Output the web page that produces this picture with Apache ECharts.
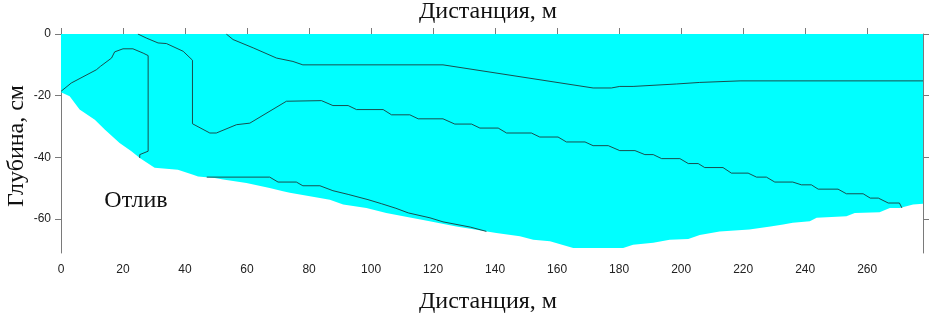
<!DOCTYPE html>
<html><head><meta charset="utf-8">
<script src="https://cdn.jsdelivr.net/npm/echarts@6/dist/echarts.min.js"></script>
<style>html,body{margin:0;padding:0;background:#fff}#c{width:931px;height:314px}</style>
</head><body><div id="c"></div>
<script>
// Axis ticks
const xTicks = [0,20,40,60,80,100,120,140,160,180,200,220,240,260];
const yTicks = [0,-20,-40,-60];
const xMin = 0, xMax = 278, yMin = -71, yMax = 0;

// Bottom of the water body (distance m, depth cm)
const bottomX = [0,2.8,6,10.9,14.1,18.9,22.7,25.4,30.2,37.7,42.6,44.2,49.6,52.3,59.8,67.3,71.6,73.8,83.5,86.7,91,98.5,104.9,118.9,127.5,140.4,148,152.3,157.7,165.2,181.3,184.5,191,196.3,202.3,206,212.4,222,228.8,232.9,236,241.5,243.7,253.3,256,264,267.3,270.5,274.8,278];
const bottomY = [-18.9,-20.2,-24.5,-27.8,-31,-35.3,-38,-40.2,-43.4,-44,-45.6,-46.2,-46.7,-47.2,-48.3,-49.9,-51,-51.5,-53.2,-53.7,-55.3,-56.4,-58,-60.7,-62.4,-64.5,-65.6,-66.7,-67.2,-69.4,-69.4,-68.3,-67.7,-66.7,-66.5,-65.2,-64,-63.4,-62.4,-61.8,-61.2,-60.7,-59.6,-59.1,-58,-57.8,-56.4,-56.4,-55.3,-55];

// Contour lines
const lineAX = [53.3,55.5,62,69.5,74.8,78,123.2,171.6,177.5,180.2,184.5,198.5,206,219,278];
const lineAY = [0,-1.8,-4.5,-7.8,-8.9,-10,-10,-17.5,-17.5,-17,-17,-16.2,-15.7,-15.2,-15.2];

const lineBX = [0,3.3,11.4,12.7,16.3,17.3,20,23.2,26.5,28.1,28.1,25.4,25.4];
const lineBY = [-18.6,-15.9,-11.6,-10.5,-7.8,-5.8,-4.8,-4.8,-6.2,-7,-38,-39.1,-40.2];

const lineCX = [24.8,27.5,31.3,34,39.4,42.4,42.4,48,50.1,56.6,60.9,72.7,84,87.7,92.6,95.3,103.9,106.6,112.5,115.2,123.2,127,132.4,135.1,141,143.7,151.7,154.4,160.3,163,169,171.6,176.5,180.2,185.1,188.3,191,193.7,199.6,202.3,205.5,207.6,213.5,216.2,221.6,224.3,227.5,230.2,236,238.8,242,244.2,250.6,253.3,258.7,261,263.6,266.8,270.4,271.2];
const lineCY = [0,-1.3,-2.9,-3.1,-5.6,-8.5,-29.1,-32.1,-32.1,-29.4,-28.9,-21.8,-21.6,-23.2,-23.2,-24.5,-24.5,-26.2,-26.2,-27.5,-27.5,-29.2,-29.2,-30.5,-30.5,-32.1,-32.1,-33.4,-33.4,-35,-35,-36.2,-36.2,-37.8,-37.8,-39.1,-39.1,-40.4,-40.4,-42,-42,-43.3,-43.3,-45.1,-45.1,-46.4,-46.4,-48,-48,-48.9,-48.9,-50.3,-50.3,-51.8,-51.8,-53.2,-53.2,-54.8,-54.8,-56.4];

const lineDX = [47,67.3,70,75.9,78,83.5,87.7,92.6,99,103.3,108,112,119,123.2,132,137.2];
const lineDY = [-46.4,-46.4,-48,-48,-49.2,-49.2,-50.8,-52,-53.7,-55,-56.5,-58,-59.6,-60.9,-62.6,-64];

const zip = (xs, ys) => xs.map((x, i) => [x, ys[i]]);

const axisGray = '#7a7a7a';
const labelFont = {fontFamily: 'Liberation Sans, Arial, sans-serif', fontSize: 12, color: '#222'};
const serif = 'Liberation Serif, Times New Roman, serif';

const chart = echarts.init(document.getElementById('c'), null, {renderer: 'canvas'});
const contour = (xs, ys) => ({
  type: 'line', data: zip(xs, ys), symbol: 'none', silent: true,
  lineStyle: {color: '#1c3a3a', width: 0.9}, z: 5, animation: false
});
chart.setOption({
  animation: false,
  grid: {left: 61, right: 8, top: 34, bottom: 61, containLabel: false},
  xAxis: [
    {type: 'value', position: 'bottom', min: xMin, max: xMax,
     axisLine: {show: true, lineStyle: {color: axisGray, width: 1}},
     axisTick: {show: true, inside: false, length: 6, customValues: xTicks, lineStyle: {color: axisGray}},
     axisLabel: Object.assign({show: true, margin: 11, customValues: xTicks}, labelFont),
     splitLine: {show: false}},
    {type: 'value', position: 'top', min: xMin, max: xMax,
     axisLine: {show: true, onZero: false, lineStyle: {color: axisGray, width: 1}},
     axisTick: {show: true, inside: false, length: 6, customValues: xTicks, lineStyle: {color: axisGray}},
     axisLabel: {show: false}, splitLine: {show: false}}
  ],
  yAxis: [
    {type: 'value', position: 'left', min: yMin, max: yMax,
     axisLine: {show: true, onZero: false, lineStyle: {color: axisGray, width: 1}},
     axisTick: {show: true, inside: false, length: 6, customValues: yTicks, lineStyle: {color: axisGray}},
     axisLabel: Object.assign({show: true, margin: 10, customValues: yTicks}, labelFont),
     splitLine: {show: false}},
    {type: 'value', position: 'right', min: yMin, max: yMax,
     axisLine: {show: true, onZero: false, lineStyle: {color: axisGray, width: 1}},
     axisTick: {show: true, inside: false, length: 6, customValues: yTicks, lineStyle: {color: axisGray}},
     axisLabel: {show: false}, splitLine: {show: false}}
  ],
  series: [
    {type: 'line', data: zip(bottomX, bottomY), symbol: 'none', silent: true,
     lineStyle: {width: 0}, areaStyle: {color: '#00ffff', opacity: 1, origin: 'end'}, z: 2},
    contour(lineAX, lineAY),
    contour(lineBX, lineBY),
    contour(lineCX, lineCY),
    contour(lineDX, lineDY)
  ],
  graphic: [
    {type: 'text', x: 488, y: 12, style: {text: 'Дистанция, м', font: '24px ' + serif, fill: '#111', align: 'center', verticalAlign: 'middle'}},
    {type: 'text', x: 488, y: 302, style: {text: 'Дистанция, м', font: '24px ' + serif, fill: '#111', align: 'center', verticalAlign: 'middle'}},
    {type: 'text', x: 17, y: 146, rotation: Math.PI / 2, style: {text: 'Глубина, см', font: '24px ' + serif, fill: '#111', align: 'center', verticalAlign: 'middle'}},
    {type: 'text', x: 136, y: 201, style: {text: 'Отлив', font: '24px ' + serif, fill: '#111', align: 'center', verticalAlign: 'middle'}}
  ]
});
</script></body></html>
